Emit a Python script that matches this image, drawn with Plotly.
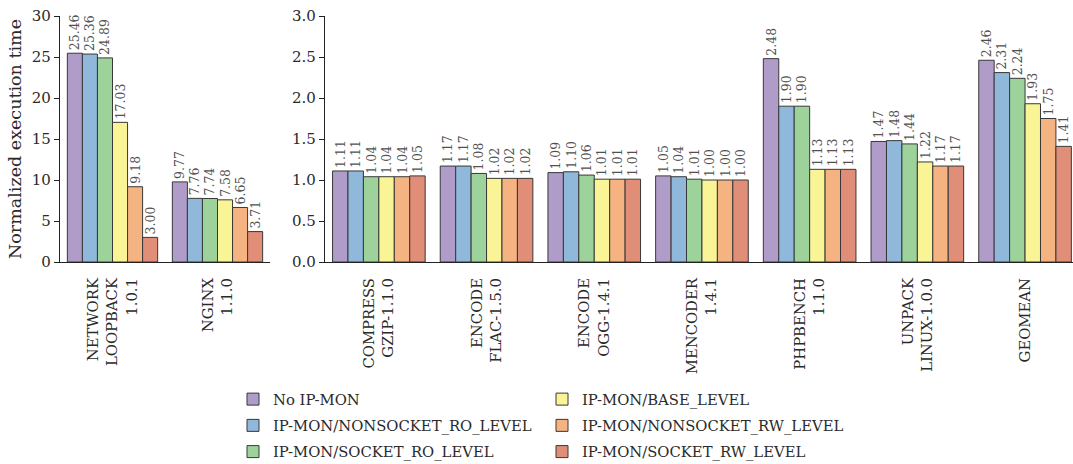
import plotly.graph_objects as go
from plotly.subplots import make_subplots

# Benchmarks shown on the left (large overheads) and right (small overheads)
left_categories = ["NETWORK<br>LOOPBACK<br>1.0.1", "NGINX<br>1.1.0"]
right_categories = [
    "COMPRESS<br>GZIP-1.1.0",
    "ENCODE<br>FLAC-1.5.0",
    "ENCODE<br>OGG-1.4.1",
    "MENCODER<br>1.4.1",
    "PHPBENCH<br>1.1.0",
    "UNPACK<br>LINUX-1.0.0",
    "GEOMEAN",
]

series_names = [
    "No IP-MON",
    "IP-MON/NONSOCKET_RO_LEVEL",
    "IP-MON/SOCKET_RO_LEVEL",
    "IP-MON/BASE_LEVEL",
    "IP-MON/NONSOCKET_RW_LEVEL",
    "IP-MON/SOCKET_RW_LEVEL",
]

# Normalized execution time per configuration (left panel)
left_no_ipmon = [25.46, 9.77]
left_nonsocket_ro = [25.36, 7.76]
left_socket_ro = [24.89, 7.74]
left_base = [17.03, 7.58]
left_nonsocket_rw = [9.18, 6.65]
left_socket_rw = [3.00, 3.71]

# Normalized execution time per configuration (right panel)
right_no_ipmon = [1.11, 1.17, 1.09, 1.05, 2.48, 1.47, 2.46]
right_nonsocket_ro = [1.11, 1.17, 1.10, 1.04, 1.90, 1.48, 2.31]
right_socket_ro = [1.04, 1.08, 1.06, 1.01, 1.90, 1.44, 2.24]
right_base = [1.04, 1.02, 1.01, 1.00, 1.13, 1.22, 1.93]
right_nonsocket_rw = [1.04, 1.02, 1.01, 1.00, 1.13, 1.17, 1.75]
right_socket_rw = [1.05, 1.02, 1.01, 1.00, 1.13, 1.17, 1.41]

left_series = [left_no_ipmon, left_nonsocket_ro, left_socket_ro,
               left_base, left_nonsocket_rw, left_socket_rw]
right_series = [right_no_ipmon, right_nonsocket_ro, right_socket_ro,
                right_base, right_nonsocket_rw, right_socket_rw]

colors = ["#b09cc9", "#90b8da", "#9dd39b", "#f9f597", "#f4b381", "#e08e77"]
# legend placement: first three in the left column, last three in the right
legend_ids = ["legend", "legend", "legend", "legend2", "legend2", "legend2"]

FONT = "DejaVu Serif"
TEXT = "#2a2a2a"

fig = make_subplots(rows=1, cols=2, horizontal_spacing=0.0)

for i, name in enumerate(series_names):
    for col, (cats, vals) in enumerate([(left_categories, left_series[i]),
                                        (right_categories, right_series[i])], start=1):
        fig.add_trace(
            go.Bar(
                x=cats,
                y=vals,
                name=name,
                legendgroup=name,
                legend=legend_ids[i],
                showlegend=(col == 1),
                marker=dict(color=colors[i], line=dict(color="#383838", width=1)),
                text=[f"{v:.2f}" for v in vals],
                textposition="outside",
                textangle=-90,
                constraintext="none",
                cliponaxis=False,
                textfont=dict(family=FONT, size=12.5, color="#505050"),
                hoverinfo="skip",
            ),
            row=1, col=col,
        )

W, H = 1073, 464
y_bottom = 1 - 262 / H
y_top = 1 - 16 / H

axis_common = dict(
    showline=True, linecolor="#222", linewidth=1.3, showgrid=False,
    zeroline=False, tickfont=dict(family=FONT, size=15, color=TEXT),
)
xaxis_common = dict(
    showline=True, linecolor="#222", linewidth=1.3, tickangle=-90,
    ticks="outside", ticklen=9, tickcolor="rgba(0,0,0,0)",
    tickfont=dict(family=FONT, size=14.8, color=TEXT),
)

fig.update_layout(
    width=W, height=H,
    margin=dict(l=0, r=0, t=0, b=0, autoexpand=False),
    paper_bgcolor="white", plot_bgcolor="white",
    barmode="group", bargap=0.14, bargroupgap=0,
    font=dict(family=FONT, color=TEXT),
    xaxis=dict(domain=[60 / W, 270 / W], range=[-0.5, 1.5], **xaxis_common),
    xaxis2=dict(domain=[325 / W, 1.0], range=[-0.5, -0.5 + 748 / 107.7], **xaxis_common),
    yaxis=dict(domain=[y_bottom, y_top], range=[0, 30], dtick=5, ticks="outside",
               ticklen=5, tickcolor="#222",
               title=dict(text="Normalized execution time",
                          font=dict(family=FONT, size=17.5, color=TEXT), standoff=5),
               **axis_common),
    yaxis2=dict(domain=[y_bottom, y_top], range=[0, 3], dtick=0.5, tickformat=".1f",
                ticks="outside", ticklen=5, tickcolor="#222", **axis_common),
    legend=dict(x=233 / W, y=1 - 383 / H, xanchor="left", yanchor="top",
                orientation="v", tracegroupgap=4,
                font=dict(family=FONT, size=14.8, color=TEXT), bgcolor="rgba(0,0,0,0)"),
    legend2=dict(x=542 / W, y=1 - 383 / H, xanchor="left", yanchor="top",
                 orientation="v", tracegroupgap=4,
                 font=dict(family=FONT, size=14.8, color=TEXT), bgcolor="rgba(0,0,0,0)"),
)

fig.write_html("out.html")
